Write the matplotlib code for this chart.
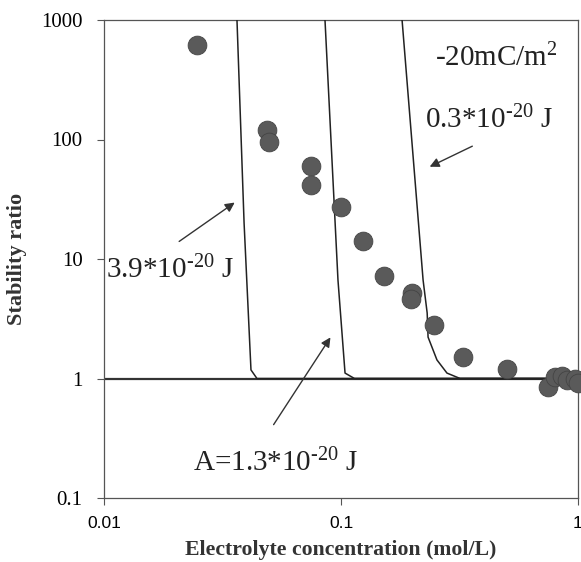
import numpy as np
import matplotlib
matplotlib.use('Agg')
import matplotlib.pyplot as plt

plt.rcParams['font.family'] = 'Liberation Serif'
plt.rcParams['mathtext.fontset'] = 'custom'
plt.rcParams['mathtext.rm'] = 'Liberation Serif'
plt.rcParams['mathtext.default'] = 'regular'

# measured stability ratios
conc = [0.0247, 0.0486, 0.0496, 0.0747, 0.0747, 0.100, 0.124, 0.152, 0.200, 0.198,
        0.247, 0.327, 0.501, 0.747, 0.80, 0.86, 0.90, 0.97, 1.0]
ratio = [618, 120, 95, 60, 41.6, 27.2, 14.2, 7.2, 5.2, 4.6,
         2.8, 1.51, 1.2, 0.85, 1.03, 1.05, 0.97, 1.0, 0.91]

# calculated curves for three Hamaker constants
fit_39_x = [0.0364, 0.0390, 0.0417, 0.0442, 1.0]
fit_39_y = [1000, 20, 1.18, 1.0, 1.0]
fit_13_x = [0.0856, 0.0971, 0.104, 0.114, 1.0]
fit_13_y = [1000, 6.67, 1.11, 1.0, 1.0]
fit_03_x = [0.181, 0.222, 0.231, 0.233, 0.254, 0.280, 0.318, 1.0]
fit_03_y = [1000, 6.67, 3.53, 2.22, 1.43, 1.11, 1.0, 1.0]

fig = plt.figure(figsize=(5.81, 5.62), dpi=100)
ax = fig.add_axes([104 / 581, 1 - 498 / 562, 474 / 581, 478 / 562])
ax.set_xscale('log')
ax.set_yscale('log')
ax.set_xlim(0.01, 1)
ax.set_ylim(0.1, 1000)

ax.axhline(1, color='#333333', lw=1.6, zorder=2)
for fx, fy in [(fit_39_x, fit_39_y), (fit_13_x, fit_13_y), (fit_03_x, fit_03_y)]:
    ax.plot(fx, fy, color='#222222', lw=1.1, zorder=3)

ax.plot(conc, ratio, 'o', ms=13.5, color='#5a5a5a', mec='#444444', mew=0.6,
        clip_on=False, zorder=4)

ax.set_xticks([0.01, 0.1, 1])
ax.set_xticklabels(['0.01', '0.1', '1'], fontfamily='Liberation Sans', fontsize=12.5)
ax.set_yticks([0.1, 1, 10, 100, 1000])
ax.set_yticklabels(['0.1', '1', '10', '100', '1000'], fontsize=15)
ax.minorticks_off()
ax.tick_params(axis='both', direction='out', length=5, width=0.8, color='#555555')
ax.tick_params(axis='x', pad=8)
ax.tick_params(axis='y', pad=10.5)
for s in ax.spines.values():
    s.set_color('#555555')
    s.set_linewidth(0.9)

ax.set_xlabel('Electrolyte concentration (mol/L)', fontsize=15.7, fontweight='bold',
              color='#333333', va='center')
ax.set_ylabel('Stability ratio', fontsize=16, fontweight='bold', color='#333333',
              va='center')
ax.xaxis.set_label_coords(0.5, -0.109)
ax.yaxis.set_label_coords(-0.184, 0.5)

txt = dict(fontsize=21, color='#222222', va='center', ha='left', transform=ax.transAxes)
ax.text(0.698, 0.921, r'-20mC/m$^{2}$', **txt)
ax.text(0.677, 0.791, r'0.3*10$^{\text{-20}}$ J', **txt)
ax.text(0.004, 0.477, r'3.9*10$^{\text{-20}}$ J', **txt)
ax.text(0.188, 0.073, r'A=1.3*10$^{\text{-20}}$ J', **txt)

arrow = dict(arrowstyle='-|>', color='#333333', lw=1.0, mutation_scale=14)
ax.annotate('', xy=(0.0364, 30.6), xytext=(0.0203, 13.6), arrowprops=arrow)
ax.annotate('', xy=(0.0916, 2.31), xytext=(0.0512, 0.393), arrowprops=arrow)
ax.annotate('', xy=(0.231, 57.8), xytext=(0.367, 90), arrowprops=arrow)

fig.savefig('out.png', dpi=100)
